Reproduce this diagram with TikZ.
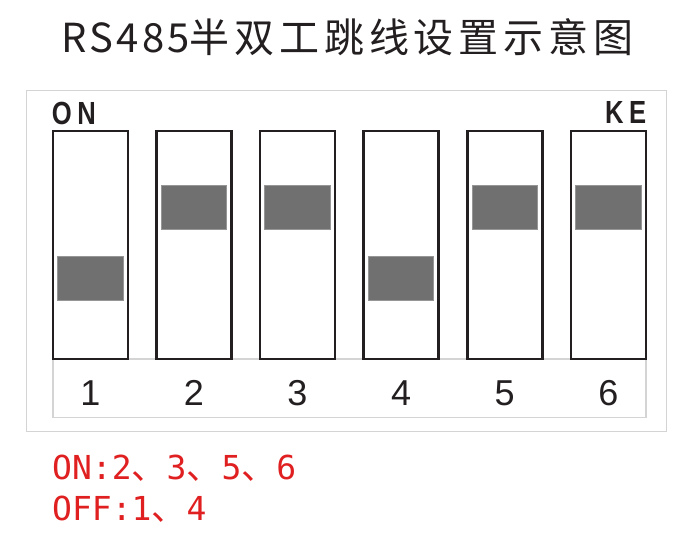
\documentclass[tikz,border=0pt]{standalone}
\usepackage{fontspec}
\usepackage{graphicx}
\setmainfont{Liberation Sans}
\newfontfamily\cjkfont{Noto Sans CJK SC}
\newfontfamily\titlecjk[LetterSpace=12]{Noto Sans CJK SC}
\newfontfamily\titlelat[LetterSpace=8]{Noto Sans CJK SC}
\newfontfamily\monofont{DejaVu Sans Mono}
\newfontfamily\labfont[LetterSpace=22]{Liberation Sans}
\definecolor{redtxt}{RGB}{224,32,32}
\definecolor{framegray}{RGB}{212,212,212}
\definecolor{swblack}{RGB}{35,31,32}
\definecolor{slidergray}{RGB}{112,112,112}
\definecolor{sliderborder}{RGB}{150,150,150}
\newcommand\dun{{\cjkfont\fontsize{35}{35}\selectfont 、}}
\tikzset{
  frame/.style={draw=framegray, line width=1.5pt},
  switchbox/.style={draw=swblack, line width=2.6pt, fill=white, minimum width=75pt, minimum height=227.8pt, inner sep=0pt, outer sep=0pt},
  slider/.style={fill=slidergray, draw=sliderborder, line width=0.8pt, minimum width=65.3pt, minimum height=44pt, inner sep=0pt, outer sep=0pt},
  numlab/.style={inner sep=0pt, text=swblack, font=\fontsize{36}{36}\selectfont},
  redlab/.style={anchor=base west, inner sep=0pt, text=redtxt, font=\monofont\fontsize{33}{33}\selectfont},
  toplab/.style={inner sep=0pt, text=swblack},
}
\begin{document}
\begin{tikzpicture}[x=1pt,y=-1pt]
\useasboundingbox (0,0) rectangle (693,534);
\fill[white] (0,0) rectangle (693,534);
\node[anchor=base west, inner sep=0pt, text=swblack] (title) at (61.7,53)
  {\fontsize{40}{40}\selectfont\titlelat RS485\titlecjk 半双工跳线设置示意图};
\draw[frame] (26.7,90.7) rectangle (666.7,431.7);
\draw[frame] (52.8,359) rectangle (645.8,417.7);
\node[toplab, anchor=base west] (on) at (51.7,125)
  {\scalebox{0.8}[1]{\labfont\bfseries\fontsize{32}{32}\selectfont ON}};
\node[toplab, anchor=base east] (ke) at (646.5,123.3)
  {\scalebox{0.8}[1]{\labfont\bfseries\fontsize{32}{32}\selectfont KE}};
\foreach \i/\s in {1/278.7,2/207.7,3/207.7,4/278.7,5/207.7,6/207.7} {
  \pgfmathsetmacro\cx{90.3+103.6*(\i-1)}
  \node[switchbox] (sw\i) at (\cx,245.1) {};
  \node[slider] (sl\i) at (\cx,\s) {};
  \node[numlab] (n\i) at (\cx,393) {\i};
}
\node[redlab] (onlist) at (52,479) {ON:2\dun 3\dun 5\dun 6};
\node[redlab] (offlist) at (52,520.7) {OFF:1\dun 4};
\end{tikzpicture}
\end{document}
